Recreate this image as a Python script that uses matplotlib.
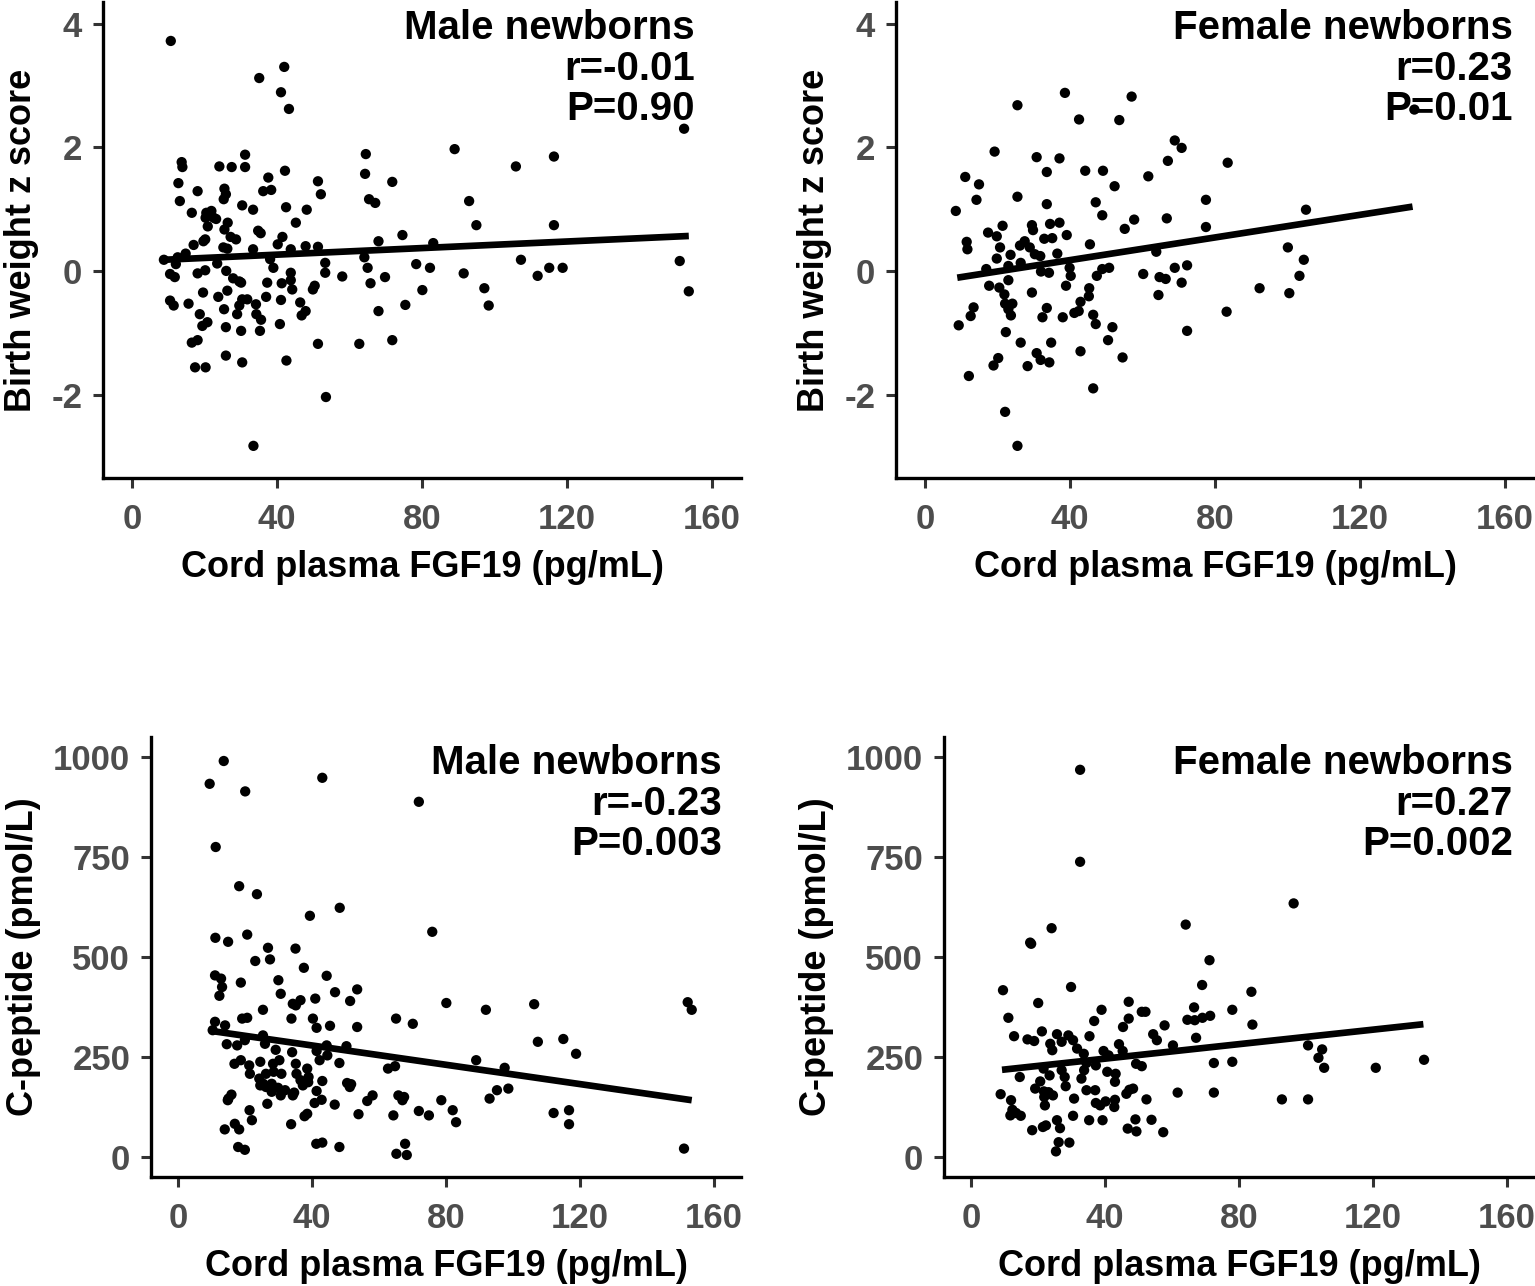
import matplotlib
matplotlib.use("Agg")
import matplotlib.pyplot as plt

plt.rcParams['font.family'] = ['Liberation Sans', 'DejaVu Sans']
plt.rcParams['font.weight'] = 'bold'
plt.rcParams['axes.unicode_minus'] = False

# --- data ---
# birth weight z score, male newborns
m_bw_x = [10.7, 42.0, 35.1, 41.1, 43.3, 152.3, 89.0, 64.5, 31.2, 116.4, 13.7, 13.9, 24.1, 27.5, 31.2,
          105.9, 42.2, 64.3, 37.6, 51.3, 71.8, 12.8, 18.1, 25.5, 25.9, 36.2, 38.4, 52.1, 25.3, 13.2,
          65.4, 67.1, 93.0, 30.4, 33.4, 42.5, 48.2, 16.5, 20.5, 21.9, 22.5, 20.3, 23.2, 26.4, 45.2,
          95.0, 116.4, 20.9, 25.5, 34.8, 35.5, 74.6, 27.2, 28.7, 41.5, 20.2, 19.7, 68.0, 17.0, 40.2,
          83.1, 25.2, 26.3, 33.4, 43.8, 47.9, 51.3, 14.8, 12.6, 8.8, 38.1, 64.1, 107.3, 151.1, 12.1,
          23.5, 53.3, 78.4, 39.0, 65.0, 82.2, 115.1, 118.8, 18.1, 20.2, 26.0, 53.3, 10.5, 11.8, 43.8,
          58.0, 69.8, 91.5, 111.9, 27.9, 29.6, 37.3, 41.3, 43.8, 50.4, 65.8, 30.1, 97.2, 19.6, 26.3,
          44.2, 49.9, 80.1, 23.8, 37.0, 30.4, 31.8, 10.5, 11.5, 15.6, 41.1, 46.4, 34.2, 29.6, 98.4,
          75.4, 25.4, 47.9, 68.0, 29.0, 18.7, 34.3, 46.8, 35.6, 20.8, 19.4, 40.8, 25.9, 30.1, 35.3,
          18.1, 16.5, 51.3, 62.7, 71.8, 25.9, 30.4, 42.6, 17.4, 20.3, 53.5, 33.5, 153.6]
m_bw_y = [3.72, 3.30, 3.12, 2.89, 2.62, 2.30, 1.97, 1.89, 1.88, 1.85, 1.76, 1.68, 1.69, 1.68, 1.68,
          1.69, 1.62, 1.57, 1.51, 1.45, 1.44, 1.42, 1.29, 1.33, 1.24, 1.29, 1.31, 1.24, 1.16, 1.13,
          1.16, 1.10, 1.13, 1.06, 0.99, 1.03, 0.99, 0.94, 0.94, 0.97, 0.86, 0.86, 0.84, 0.78, 0.78,
          0.74, 0.74, 0.72, 0.67, 0.65, 0.61, 0.58, 0.55, 0.51, 0.55, 0.51, 0.48, 0.48, 0.42, 0.43,
          0.45, 0.38, 0.36, 0.35, 0.35, 0.40, 0.39, 0.28, 0.22, 0.18, 0.19, 0.22, 0.18, 0.16, 0.11,
          0.12, 0.13, 0.11, 0.05, 0.05, 0.05, 0.05, 0.05, -0.04, 0.01, 0.00, -0.03, -0.05, -0.10, -0.03,
          -0.09, -0.10, -0.04, -0.08, -0.12, -0.17, -0.19, -0.20, -0.15, -0.24, -0.20, -0.19, -0.28, -0.35, -0.32,
          -0.30, -0.30, -0.31, -0.42, -0.42, -0.46, -0.46, -0.48, -0.56, -0.53, -0.47, -0.51, -0.54, -0.56, -0.56,
          -0.55, -0.62, -0.65, -0.65, -0.70, -0.70, -0.70, -0.72, -0.79, -0.83, -0.89, -0.86, -0.91, -0.97, -0.97,
          -1.12, -1.16, -1.18, -1.18, -1.12, -1.37, -1.48, -1.45, -1.56, -1.56, -2.04, -2.83, -0.33]
m_bw_fit_x = [8.8, 153.6]
m_bw_fit_y = [0.18, 0.565]

# birth weight z score, female newborns
f_bw_x = [38.6, 57.0, 25.5, 42.5, 53.6, 135.0, 68.9, 70.8, 19.2, 30.8, 37.1, 67.0, 83.5, 33.6, 44.2,
          49.1, 61.6, 11.1, 14.9, 52.3, 25.5, 14.2, 77.5, 47.1, 33.6, 105.1, 8.5, 48.9, 66.7, 57.7,
          21.4, 34.5, 37.1, 29.5, 77.5, 55.1, 17.4, 29.8, 19.8, 39.1, 32.9, 35.1, 27.5, 11.5, 45.5,
          26.2, 28.9, 11.7, 20.7, 100.1, 63.8, 23.6, 30.3, 31.8, 36.5, 19.8, 104.5, 26.4, 23.0, 16.9,
          32.0, 34.2, 39.9, 50.8, 48.9, 68.9, 72.3, 40.2, 47.4, 60.2, 64.7, 66.4, 103.3, 23.0, 70.8,
          17.7, 38.9, 20.5, 45.3, 92.3, 29.5, 21.9, 45.2, 64.4, 100.5, 22.1, 24.1, 42.9, 13.4, 23.0,
          33.6, 23.7, 41.2, 42.4, 46.4, 83.2, 9.3, 12.6, 32.4, 38.0, 47.1, 51.7, 22.3, 72.3, 26.4,
          34.8, 50.5, 42.9, 30.8, 31.9, 34.3, 54.5, 20.2, 18.9, 28.3, 12.1, 46.4, 22.1, 25.5]
f_bw_y = [2.88, 2.82, 2.68, 2.45, 2.44, 2.61, 2.11, 1.99, 1.93, 1.84, 1.82, 1.78, 1.75, 1.60, 1.62,
          1.62, 1.53, 1.52, 1.40, 1.37, 1.20, 1.15, 1.15, 1.11, 1.08, 0.99, 0.97, 0.90, 0.85, 0.83,
          0.73, 0.76, 0.78, 0.74, 0.71, 0.68, 0.62, 0.66, 0.56, 0.58, 0.52, 0.53, 0.48, 0.47, 0.43,
          0.41, 0.38, 0.35, 0.38, 0.38, 0.31, 0.26, 0.27, 0.24, 0.28, 0.20, 0.18, 0.13, 0.08, 0.03,
          -0.01, -0.03, 0.05, 0.05, 0.03, 0.05, 0.09, -0.08, -0.08, -0.05, -0.10, -0.13, -0.08, -0.15, -0.19,
          -0.24, -0.24, -0.27, -0.28, -0.28, -0.35, -0.38, -0.41, -0.39, -0.36, -0.53, -0.53, -0.50, -0.59, -0.62,
          -0.60, -0.72, -0.68, -0.65, -0.71, -0.66, -0.88, -0.73, -0.75, -0.75, -0.86, -0.91, -0.99, -0.97, -1.16,
          -1.16, -1.12, -1.30, -1.33, -1.44, -1.48, -1.40, -1.41, -1.53, -1.54, -1.70, -1.90, -2.28, -2.83]
f_bw_fit_x = [8.9, 134.5]
f_bw_fit_y = [-0.11, 1.04]

# C-peptide, male newborns
m_cp_x = [13.7, 9.5, 43.1, 20.1, 71.9, 11.3, 18.3, 23.6, 48.3, 39.4, 75.9, 11.2, 15.0, 20.7, 26.9,
          35.1, 27.5, 23.1, 37.6, 11.1, 12.9, 44.4, 13.2, 18.8, 30.0, 12.4, 30.7, 46.9, 53.5, 41.0,
          51.4, 36.6, 35.2, 34.3, 152.1, 153.3, 80.1, 106.3, 91.9, 25.4, 19.2, 20.7, 33.9, 40.3, 65.1,
          70.1, 11.1, 14.1, 45.4, 53.5, 41.4, 10.4, 25.4, 26.0, 14.6, 17.7, 20.0, 115.0, 107.4, 44.4,
          50.3, 29.2, 34.1, 41.4, 44.6, 42.3, 118.8, 18.8, 16.9, 24.6, 28.4, 30.3, 35.2, 48.2, 89.0,
          21.3, 21.5, 26.3, 28.6, 30.9, 35.4, 38.6, 39.0, 62.7, 64.8, 97.5, 24.3, 25.5, 28.0, 36.6,
          43.1, 50.5, 51.7, 24.6, 26.3, 29.9, 37.3, 38.9, 51.3, 28.0, 30.7, 32.0, 34.7, 41.4, 98.6,
          95.2, 34.3, 16.0, 15.1, 58.1, 93.0, 65.8, 67.5, 14.9, 42.9, 40.8, 56.5, 67.0, 78.6, 26.7,
          46.8, 21.4, 71.9, 82.0, 112.1, 116.7, 38.6, 37.8, 53.9, 64.3, 74.9, 22.1, 83.0, 17.0, 33.8,
          116.7, 14.0, 18.3, 41.3, 43.1, 48.2, 67.8, 18.0, 20.0, 65.2, 68.3, 151.0]
m_cp_y = [990, 933, 948, 914, 888, 775, 677, 657, 623, 603, 563, 548, 538, 556, 523,
          521, 494, 490, 473, 454, 446, 453, 425, 436, 442, 403, 408, 412, 419, 396,
          390, 392, 379, 383, 387, 368, 385, 382, 368, 368, 346, 348, 346, 346, 346,
          333, 338, 329, 328, 325, 323, 317, 304, 283, 282, 279, 292, 295, 288, 279,
          277, 268, 262, 265, 254, 242, 258, 242, 233, 238, 233, 242, 233, 235, 242,
          229, 208, 208, 213, 208, 208, 221, 200, 221, 227, 223, 196, 183, 183, 192,
          190, 185, 182, 179, 175, 173, 179, 187, 175, 163, 154, 167, 161, 165, 171,
          167, 154, 156, 146, 154, 146, 154, 150, 142, 143, 135, 140, 142, 142, 133,
          131, 117, 115, 117, 110, 117, 108, 102, 107, 104, 104, 92, 87, 83, 82,
          82, 69, 69, 33, 36, 25, 33, 25, 18, 8, 5, 21]
m_cp_fit_x = [10.1, 153.3]
m_cp_fit_y = [315, 142]

# C-peptide, female newborns
f_cp_x = [32.6, 32.6, 96.3, 64.1, 24.1, 17.7, 18.0, 71.2, 69.0, 29.9, 9.6, 83.7, 20.1, 47.1, 39.0,
          78.0, 66.6, 51.0, 52.1, 11.2, 47.1, 36.8, 64.6, 71.4, 69.1, 66.8, 57.8, 45.4, 84.0, 21.2,
          12.9, 54.4, 55.5, 35.4, 25.7, 29.1, 67.2, 16.9, 18.9, 27.1, 30.5, 23.7, 60.3, 44.2, 100.6,
          31.7, 24.3, 104.8, 39.6, 45.3, 33.7, 41.1, 103.7, 34.5, 72.5, 78.0, 49.3, 51.0, 37.3, 135.2,
          105.4, 120.8, 21.7, 27.1, 33.8, 40.7, 43.2, 14.6, 23.5, 28.0, 33.0, 20.7, 43.0, 28.3, 19.2,
          34.5, 37.1, 21.8, 23.2, 24.5, 47.3, 48.4, 46.4, 8.9, 61.7, 72.5, 21.9, 30.8, 43.0, 52.4,
          92.8, 100.6, 12.0, 37.3, 40.2, 22.1, 38.6, 42.8, 12.4, 13.5, 11.8, 14.9, 30.5, 49.1, 53.9,
          25.7, 35.3, 39.3, 22.4, 21.5, 26.6, 46.8, 49.4, 18.3, 57.4, 26.2, 29.4, 25.4]
f_cp_y = [968, 738, 634, 581, 572, 536, 533, 492, 430, 425, 417, 413, 385, 388, 368,
          368, 374, 363, 363, 348, 346, 340, 343, 353, 348, 342, 329, 325, 331, 314,
          302, 307, 292, 302, 307, 304, 298, 294, 290, 288, 292, 283, 279, 282, 279,
          271, 267, 269, 265, 265, 258, 254, 248, 235, 235, 238, 233, 227, 229, 243,
          223, 223, 221, 217, 217, 213, 208, 200, 204, 200, 196, 189, 188, 177, 171,
          167, 167, 164, 162, 154, 168, 171, 158, 157, 161, 161, 150, 146, 143, 144,
          144, 144, 142, 135, 139, 129, 129, 125, 118, 110, 104, 103, 103, 94, 93,
          92, 92, 92, 79, 75, 72, 71, 64, 67, 62, 37, 36, 14]
f_cp_fit_x = [9.3, 135.0]
f_cp_fit_y = [218, 332]

x_ticks = [0, 40, 80, 120, 160]
bw_ticks = [-2, 0, 2, 4]
cp_ticks = [0, 250, 500, 750, 1000]

x_label = "Cord plasma FGF19 (pg/mL)"
bw_label = "Birth weight z score"
cp_label = "C-peptide (pmol/L)"

notes = [["Male newborns", "r=-0.01", "P=0.90"],
         ["Female newborns", "r=0.23", "P=0.01"],
         ["Male newborns", "r=-0.23", "P=0.003"],
         ["Female newborns", "r=0.27", "P=0.002"]]

W, H = 1535, 1286
fig = plt.figure(figsize=(W / 100, H / 100), dpi=100)


def px_axes(l, t, r, b):
    return fig.add_axes([l / W, 1 - b / H, (r - l) / W, (b - t) / H])


def style(ax, yticks, ylim, ylabel):
    ax.set_xlim(-8, 168)
    ax.set_ylim(*ylim)
    ax.set_xticks(x_ticks)
    ax.set_yticks(yticks)
    for s in ['top', 'right']:
        ax.spines[s].set_visible(False)
    for s in ['left', 'bottom']:
        ax.spines[s].set_linewidth(2.4)
        ax.spines[s].set_color('black')
    ax.tick_params(length=7, width=2.2, color='#333333', labelcolor='#4d4d4d',
                   labelsize=25, pad=8)
    ax.tick_params(axis='x', pad=11)
    for lab in ax.get_xticklabels() + ax.get_yticklabels():
        lab.set_fontweight('bold')
    ax.set_xlabel(x_label, fontsize=26, fontweight='bold', labelpad=10)
    ax.set_ylabel(ylabel, fontsize=26, fontweight='bold', labelpad=9)


panels = [
    (px_axes(103, 2, 741, 478), m_bw_x, m_bw_y, m_bw_fit_x, m_bw_fit_y, bw_ticks, (-3.35, 4.35), bw_label, 0.928, 0.985),
    (px_axes(896, 2, 1534, 478), f_bw_x, f_bw_y, f_bw_fit_x, f_bw_fit_y, bw_ticks, (-3.35, 4.35), bw_label, 0.967, 0.985),
    (px_axes(151, 737, 741, 1177), m_cp_x, m_cp_y, m_cp_fit_x, m_cp_fit_y, cp_ticks, (-50, 1050), cp_label, 0.968, 0.983),
    (px_axes(944, 737, 1534, 1177), f_cp_x, f_cp_y, f_cp_fit_x, f_cp_fit_y, cp_ticks, (-50, 1050), cp_label, 0.964, 0.983),
]

for i, (ax, xs, ys, fx, fy, yt, yl, ylab, tx, ty) in enumerate(panels):
    ax.scatter(xs, ys, s=55, color='black', edgecolors='none', zorder=3)
    ax.plot(fx, fy, color='black', lw=4.8, solid_capstyle='butt', zorder=2)
    style(ax, yt, yl, ylab)
    ax.text(tx, ty, "\n".join(notes[i]), transform=ax.transAxes, ha='right', va='top',
            fontsize=29, fontweight='bold', linespacing=1.08, multialignment='right')

fig.savefig("out.png", dpi=100)
